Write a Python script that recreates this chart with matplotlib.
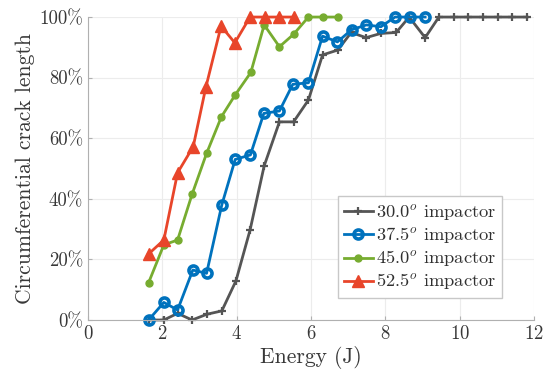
import matplotlib
matplotlib.use("Agg")
import matplotlib.pyplot as plt
from matplotlib.ticker import FuncFormatter

plt.rcParams['font.family'] = 'serif'
plt.rcParams['font.serif'] = ['cmr10']
plt.rcParams['mathtext.fontset'] = 'cm'
plt.rcParams['axes.formatter.use_mathtext'] = True

# energy (J) and crack length (%) per impactor angle
e30 = [1.63, 2.04, 2.41, 2.80, 3.20, 3.60, 3.98, 4.36, 4.74, 5.15, 5.53, 5.93, 6.31, 6.72,
       7.08, 7.48, 7.88, 8.29, 8.64, 9.07, 9.44, 9.84, 10.23, 10.62, 11.02, 11.41, 11.81]
c30 = [0, 0, 2.2, 0, 1.9, 3.0, 12.9, 29.7, 50.9, 65.4, 65.4, 72.6, 87.5, 89.1,
       94.9, 93.2, 94.6, 94.9, 100, 93.2, 100, 100, 100, 100, 100, 100, 100]

e37 = [1.63, 2.04, 2.41, 2.82, 3.19, 3.60, 3.96, 4.37, 4.73, 5.15, 5.51, 5.93, 6.31, 6.71,
       7.09, 7.49, 7.88, 8.26, 8.65, 9.07]
c37 = [0, 5.8, 3.3, 16.5, 15.4, 38.0, 53.0, 54.5, 68.2, 69.0, 77.8, 78.3, 93.7, 91.8,
       95.8, 97.4, 96.8, 100, 100, 100]

e45 = [1.63, 2.04, 2.41, 2.80, 3.19, 3.59, 3.96, 4.38, 4.74, 5.15, 5.53, 5.93, 6.31, 6.72]
c45 = [12.3, 24.8, 26.4, 41.5, 55.0, 67.1, 74.3, 81.7, 97.4, 90.2, 94.3, 100, 100, 100]

e52 = [1.63, 2.04, 2.41, 2.83, 3.17, 3.58, 3.95, 4.36, 4.75, 5.15, 5.53]
c52 = [21.8, 26.4, 48.6, 57.2, 76.8, 97.0, 91.5, 100, 100, 100, 100]

fig = plt.figure(figsize=(5.5, 3.83), dpi=100)
ax = fig.add_axes([0.16, 0.1645, 0.811, 0.791])

lw = 2.0
ax.plot(e30, c30, color='#555555', lw=lw, marker='+', ms=6, mew=1.6,
        label=r'30.0$^o$ impactor', clip_on=False)
ax.plot(e37, c37, color='#0072BD', lw=lw, marker='o', ms=6.5, mew=2.6, mfc='none',
        label=r'37.5$^o$ impactor', clip_on=False)
ax.plot(e45, c45, color='#77AC30', lw=lw, marker='o', ms=5,
        label=r'45.0$^o$ impactor', clip_on=False)
ax.plot(e52, c52, color='#E8452A', lw=lw, marker='^', ms=8.5,
        label=r'52.5$^o$ impactor', clip_on=False)

ax.set_xlim(0, 12)
ax.set_ylim(0, 100)
ax.set_xticks(range(0, 13, 2))
ax.set_yticks(range(0, 101, 20))
ax.yaxis.set_major_formatter(FuncFormatter(lambda v, p: '%d%%' % v))
ax.grid(True, color='#ececec', lw=0.8)
ax.set_axisbelow(True)
for s in ['top', 'right']:
    ax.spines[s].set_visible(False)
for s in ['left', 'bottom']:
    ax.spines[s].set_color('#b0b0b0')
ax.tick_params(direction='in', length=3, colors='#b0b0b0', labelcolor='#383838',
               labelsize=13.5)

ax.set_xlabel('Energy (J)', fontsize=15.5, color='#383838', labelpad=2)
ax.set_ylabel('Circumferential crack length', fontsize=15.5, color='#383838', labelpad=3)

leg = ax.legend(loc='lower right', bbox_to_anchor=(0.928, 0.073), fontsize=13.3,
                fancybox=False, framealpha=1, edgecolor='#c8c8c8',
                handlelength=1.6, handletextpad=0.15, borderpad=0.3,
                labelspacing=0.17, borderaxespad=0)
for t in leg.get_texts():
    t.set_color('#303030')

fig.savefig('out.png', dpi=100)
